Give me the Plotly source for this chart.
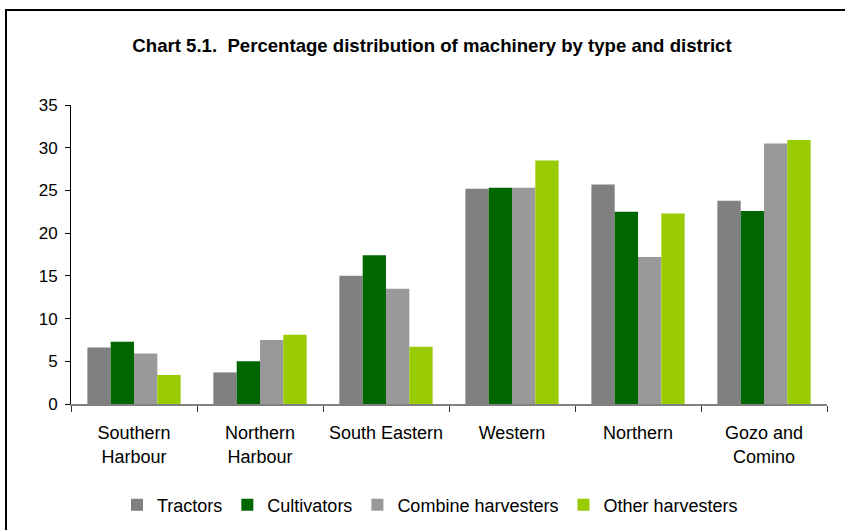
import plotly.graph_objects as go

# Districts (category axis) and machinery shares in percent
districts = ["Southern<br>Harbour", "Northern<br>Harbour", "South Eastern",
             "Western", "Northern", "Gozo and<br>Comino"]
tractors = [6.6, 3.7, 15.0, 25.2, 25.7, 23.8]
cultivators = [7.3, 5.0, 17.4, 25.3, 22.5, 22.6]
combine_harvesters = [5.9, 7.5, 13.5, 25.3, 17.2, 30.5]
other_harvesters = [3.4, 8.1, 6.7, 28.5, 22.3, 30.9]

series = [
    ("Tractors", tractors, "#808080"),
    ("Cultivators", cultivators, "#006600"),
    ("Combine harvesters", combine_harvesters, "#999999"),
    ("Other harvesters", other_harvesters, "#99CC00"),
]

fig = go.Figure()
for name, vals, col in series:
    fig.add_trace(go.Bar(x=districts, y=vals, name=name,
                         marker=dict(color=col, line=dict(width=0))))

W, H = 845, 530
L, R, T, B = 71, 18, 105, 126
pw, ph = W - L - R, H - T - B

def px_x(px):
    return (px - L) / pw

def px_y(py):
    return (H - B - py) / ph

font = "Liberation Sans, Arial, sans-serif"

fig.update_layout(
    width=W, height=H,
    margin=dict(l=L, r=R, t=T, b=B, pad=0, autoexpand=False),
    paper_bgcolor="white", plot_bgcolor="white",
    barmode="group", bargap=0.26, bargroupgap=0,
    font=dict(family=font, size=18, color="black"),
    title=dict(text="<b>Chart 5.1.  Percentage distribution of machinery by type and district</b>",
               x=px_x(432), xref="paper", xanchor="center",
               y=1 - 45 / H, yanchor="middle",
               font=dict(family=font, size=18.6, color="black")),
    xaxis=dict(showline=True, linecolor="#808080", linewidth=1.5,
               ticks="outside", tickson="boundaries", ticklen=6,
               tickcolor="#333333", tickwidth=1,
               ticklabelstandoff=12,
               tickfont=dict(family=font, size=18),
               showgrid=False, zeroline=False, fixedrange=True,
               automargin=False),
    yaxis=dict(range=[0, 35], dtick=5, showline=True, linecolor="black",
               linewidth=1, ticks="outside", ticklen=5, tickcolor="black",
               ticklabelstandoff=4,
               tickfont=dict(family=font, size=17),
               showgrid=False, zeroline=False, automargin=False),
    legend=dict(orientation="h", x=px_x(430), xanchor="center",
                y=px_y(505), yanchor="middle",
                font=dict(family=font, size=18),
                itemwidth=30, traceorder="normal",
                bgcolor="rgba(0,0,0,0)"),
    showlegend=True,
)

# Frame around the chart area (left and top edges)
fig.add_shape(type="line", xref="paper", yref="paper",
              x0=px_x(6), x1=px_x(6), y0=px_y(10), y1=px_y(540),
              line=dict(color="black", width=2))
fig.add_shape(type="line", xref="paper", yref="paper",
              x0=px_x(5), x1=px_x(850), y0=px_y(10), y1=px_y(10),
              line=dict(color="black", width=2))

fig.write_html("out.html")
